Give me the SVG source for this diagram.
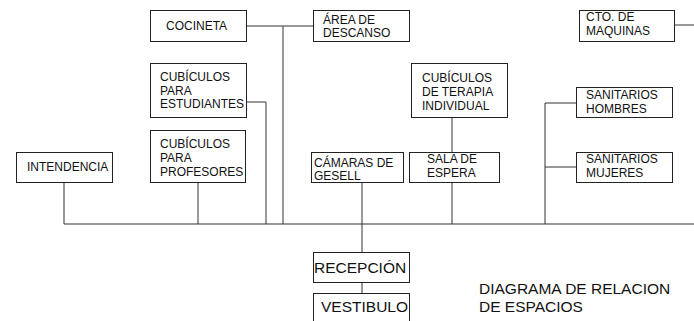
<svg xmlns="http://www.w3.org/2000/svg" width="694" height="321" viewBox="0 0 694 321">
<style>
rect{fill:#fff;stroke:#222;stroke-width:1}
.c line,.c polyline{stroke:#333;stroke-width:1;fill:none}
text{font-family:"Liberation Sans",Arial,sans-serif;font-size:12px;fill:#111}
.big{font-size:15.5px}
</style>
<rect width="694" height="321" style="stroke:none"/>
<g class="c" id="connectors">
<line x1="246" y1="26" x2="313" y2="26"/>
<line x1="283" y1="26" x2="283" y2="224"/>
<polyline points="246,102 266,102 266,224"/>
<line x1="198" y1="182" x2="198" y2="224"/>
<line x1="64" y1="182" x2="64" y2="224"/>
<line x1="64" y1="224" x2="694" y2="224"/>
<line x1="362" y1="182" x2="362" y2="252"/>
<line x1="362" y1="282" x2="362" y2="293"/>
<line x1="452" y1="117" x2="452" y2="224"/>
<polyline points="576,103 545,103 545,224"/>
<line x1="545" y1="167" x2="576" y2="167"/>
<line x1="674" y1="25" x2="694" y2="25"/>
</g>
<g id="cocineta"><rect x="150.5" y="10.5" width="96" height="31"/><text x="166" y="30">COCINETA</text></g>
<g id="area"><rect x="313.5" y="10.5" width="96" height="31"/><text x="323" y="24">ÁREA DE</text><text x="323" y="37">DESCANSO</text></g>
<g id="cto"><rect x="579.5" y="10.5" width="95" height="31"/><text x="586" y="21">CTO. DE</text><text x="586" y="35">MAQUINAS</text></g>
<g id="estudiantes"><rect x="150.5" y="63.5" width="96" height="54"/><text x="160" y="81">CUBÍCULOS</text><text x="160" y="95">PARA</text><text x="160" y="108">ESTUDIANTES</text></g>
<g id="terapia"><rect x="411.5" y="63.5" width="96" height="54"/><text x="422" y="82">CUBÍCULOS</text><text x="422" y="96">DE TERAPIA</text><text x="422" y="110">INDIVIDUAL</text></g>
<g id="hombres"><rect x="576.5" y="87.5" width="96" height="30"/><text x="586" y="99">SANITARIOS</text><text x="586" y="113">HOMBRES</text></g>
<g id="profesores"><rect x="150.5" y="130.5" width="95" height="52"/><text x="160" y="148">CUBÍCULOS</text><text x="160" y="162">PARA</text><text x="160" y="176">PROFESORES</text></g>
<g id="intendencia"><rect x="16.5" y="152.5" width="96" height="30"/><text x="27" y="171">INTENDENCIA</text></g>
<g id="gesell"><rect x="311.5" y="152.5" width="92" height="30"/><text x="314" y="167">CÁMARAS DE</text><text x="314" y="180">GESELL</text></g>
<g id="espera"><rect x="409.5" y="152.5" width="90" height="30"/><text x="427" y="163">SALA DE</text><text x="427" y="177">ESPERA</text></g>
<g id="mujeres"><rect x="576.5" y="152.5" width="96" height="30"/><text x="586" y="163">SANITARIOS</text><text x="586" y="177">MUJERES</text></g>
<g id="recepcion"><rect x="313.5" y="252.5" width="96" height="30"/><text class="big" x="314" y="273">RECEPCIÓN</text></g>
<g id="vestibulo"><rect x="313.5" y="293.5" width="96" height="40"/><text class="big" x="321" y="312">VESTIBULO</text></g>
<g id="title"><text class="big" x="479" y="294">DIAGRAMA DE RELACION</text><text class="big" x="479" y="312">DE ESPACIOS</text></g>
</svg>
